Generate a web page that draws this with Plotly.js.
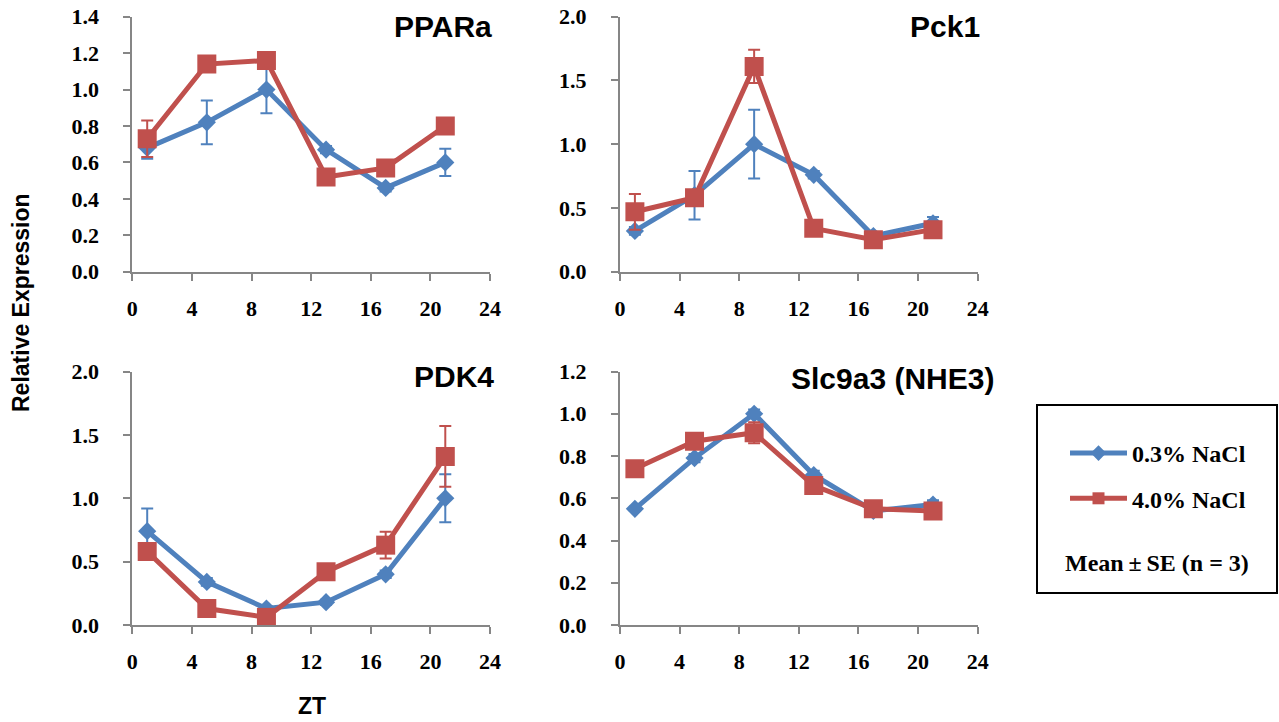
<!DOCTYPE html>
<html>
<head>
<meta charset="utf-8">
<script src="https://cdn.plot.ly/plotly-3.0.1.min.js"></script>
<style>html,body{margin:0;padding:0;background:#fff;}#chart{width:1279px;height:722px;}</style>
</head>
<body>
<div id="chart"></div>
<script>
// ---- data ----
const zt = [1, 5, 9, 13, 17, 21];
const seriesNames = ["0.3% NaCl", "4.0% NaCl"];
const panelTitles = ["PPARa", "Pck1", "PDK4", "Slc9a3 (NHE3)"];

const pparaLow = [0.68, 0.82, 1.00, 0.67, 0.46, 0.60];
const pparaLowSE = [0.06, 0.12, 0.13, 0.02, 0.02, 0.075];
const pparaHigh = [0.73, 1.14, 1.16, 0.52, 0.57, 0.80];
const pparaHighSE = [0.10, 0.02, 0.04, 0.02, 0.02, 0.02];

const pck1Low = [0.32, 0.60, 1.00, 0.76, 0.28, 0.38];
const pck1LowSE = [0.03, 0.19, 0.27, 0.03, 0.03, 0.05];
const pck1High = [0.47, 0.58, 1.61, 0.34, 0.25, 0.33];
const pck1HighSE = [0.14, 0.05, 0.13, 0.03, 0.06, 0.03];

const pdk4Low = [0.74, 0.34, 0.13, 0.18, 0.40, 1.00];
const pdk4LowSE = [0.18, 0.03, 0.02, 0.02, 0.03, 0.19];
const pdk4High = [0.58, 0.13, 0.06, 0.42, 0.63, 1.33];
const pdk4HighSE = [0.03, 0.02, 0.02, 0.03, 0.105, 0.24];

const slcLow = [0.55, 0.79, 1.00, 0.71, 0.54, 0.57];
const slcLowSE = [0.01, 0.02, 0.02, 0.02, 0.01, 0.02];
const slcHigh = [0.74, 0.87, 0.91, 0.66, 0.55, 0.54];
const slcHighSE = [0.02, 0.02, 0.05, 0.02, 0.01, 0.01];

const xTicks = [0, 4, 8, 12, 16, 20, 24];

// ---- styling ----
const W = 1279, H = 722;
const BLUE = "#4F81BD", RED = "#C0504D", AXIS = "#868686";
const px = v => v / W;
const py = v => 1 - v / H;

const panels = [
  {low: pparaLow, lowSE: pparaLowSE, high: pparaHigh, highSE: pparaHighSE, xa: "x", ya: "y"},
  {low: pck1Low, lowSE: pck1LowSE, high: pck1High, highSE: pck1HighSE, xa: "x2", ya: "y2"},
  {low: pdk4Low, lowSE: pdk4LowSE, high: pdk4High, highSE: pdk4HighSE, xa: "x3", ya: "y3"},
  {low: slcLow, lowSE: slcLowSE, high: slcHigh, highSE: slcHighSE, xa: "x4", ya: "y4"}
];

const traces = [];
panels.forEach((p, i) => {
  traces.push({
    type: "scatter", mode: "lines+markers", x: zt, y: p.low,
    xaxis: p.xa, yaxis: p.ya, name: seriesNames[0], legendgroup: "a", showlegend: i === 0,
    line: {color: BLUE, width: 5},
    marker: {symbol: "diamond", size: 14, color: BLUE},
    error_y: {type: "data", array: p.lowSE, visible: true, color: BLUE, thickness: 2, width: 6}
  });
});
panels.forEach((p, i) => {
  traces.push({
    type: "scatter", mode: "lines+markers", x: zt, y: p.high,
    xaxis: p.xa, yaxis: p.ya, name: seriesNames[1], legendgroup: "b", showlegend: i === 0,
    line: {color: RED, width: 5},
    marker: {symbol: "square", size: 19, color: RED},
    error_y: {type: "data", array: p.highSE, visible: true, color: RED, thickness: 2, width: 6}
  });
});

const tickFont = {family: "Liberation Serif", size: 22, color: "#000", weight: "bold"};
function xAxis(domain, anchor) {
  return {domain: domain, anchor: anchor, range: [0, 24], tickvals: xTicks, ticktext: xTicks.map(String),
    showgrid: false, zeroline: false, showline: true, linecolor: AXIS, linewidth: 2,
    ticks: "outside", ticklen: 7, tickwidth: 2, tickcolor: AXIS, tickfont: tickFont, ticklabelstandoff: 9, fixedrange: true};
}
function yAxis(domain, anchor, max, dtick) {
  return {domain: domain, anchor: anchor, range: [0, max], dtick: dtick, tick0: 0, tickformat: ".1f",
    showgrid: false, zeroline: false, showline: true, linecolor: AXIS, linewidth: 2,
    ticks: "outside", ticklen: 7, tickwidth: 2, tickcolor: AXIS, tickfont: tickFont, ticklabelstandoff: 20, fixedrange: true};
}

const xL = [px(132.3), px(490)], xR = [px(620), px(977.7)];
const yT = [py(271.7), py(16.7)], yB = [py(625), py(371.5)];

const titleFont = {family: "Liberation Sans", size: 30, color: "#000", weight: "bold"};
const labelFont = {family: "Liberation Sans", size: 23, color: "#000", weight: "bold"};

const layout = {
  width: W, height: H, autosize: false,
  margin: {l: 0, r: 0, t: 0, b: 0},
  paper_bgcolor: "#fff", plot_bgcolor: "rgba(0,0,0,0)",
  showlegend: true,
  legend: {x: px(1065), y: py(431), xanchor: "left", yanchor: "top", bgcolor: "rgba(0,0,0,0)",
    borderwidth: 0, font: {family: "Liberation Serif", size: 24, color: "#000", weight: "bold"},
    itemwidth: 57, tracegroupgap: 11, traceorder: "grouped", itemsizing: "constant"},
  xaxis: xAxis(xL, "y"), yaxis: yAxis(yT, "x", 1.4, 0.2),
  xaxis2: xAxis(xR, "y2"), yaxis2: yAxis(yT, "x2", 2.0, 0.5),
  xaxis3: xAxis(xL, "y3"), yaxis3: yAxis(yB, "x3", 2.0, 0.5),
  xaxis4: xAxis(xR, "y4"), yaxis4: yAxis(yB, "x4", 1.2, 0.2),
  shapes: [
    {type: "rect", xref: "paper", yref: "paper", x0: px(1037), x1: px(1277), y0: py(593), y1: py(405),
     line: {color: "#000", width: 2}, fillcolor: "rgba(0,0,0,0)"}
  ],
  annotations: [
    {text: panelTitles[0], xref: "paper", yref: "paper", x: px(494), y: py(27), xanchor: "right", yanchor: "middle", showarrow: false, font: titleFont},
    {text: panelTitles[1], xref: "paper", yref: "paper", x: px(982), y: py(27), xanchor: "right", yanchor: "middle", showarrow: false, font: titleFont},
    {text: panelTitles[2], xref: "paper", yref: "paper", x: px(496), y: py(376), xanchor: "right", yanchor: "middle", showarrow: false, font: titleFont},
    {text: panelTitles[3], xref: "paper", yref: "paper", x: px(996), y: py(378), xanchor: "right", yanchor: "middle", showarrow: false, font: titleFont},
    {text: "Relative Expression", xref: "paper", yref: "paper", x: px(21), y: py(303), xanchor: "center", yanchor: "middle", textangle: -90, showarrow: false, font: labelFont},
    {text: "ZT", xref: "paper", yref: "paper", x: px(312), y: py(706), xanchor: "center", yanchor: "middle", showarrow: false, font: labelFont},
    {text: "Mean\u2009\u00b1\u2009SE (n = 3)", xref: "paper", yref: "paper", x: px(1157), y: py(563), xanchor: "center", yanchor: "middle", showarrow: false,
     font: {family: "Liberation Serif", size: 24, color: "#000", weight: "bold"}}
  ]
};

Plotly.newPlot("chart", traces, layout, {displayModeBar: false, staticPlot: true});
</script>
</body>
</html>
